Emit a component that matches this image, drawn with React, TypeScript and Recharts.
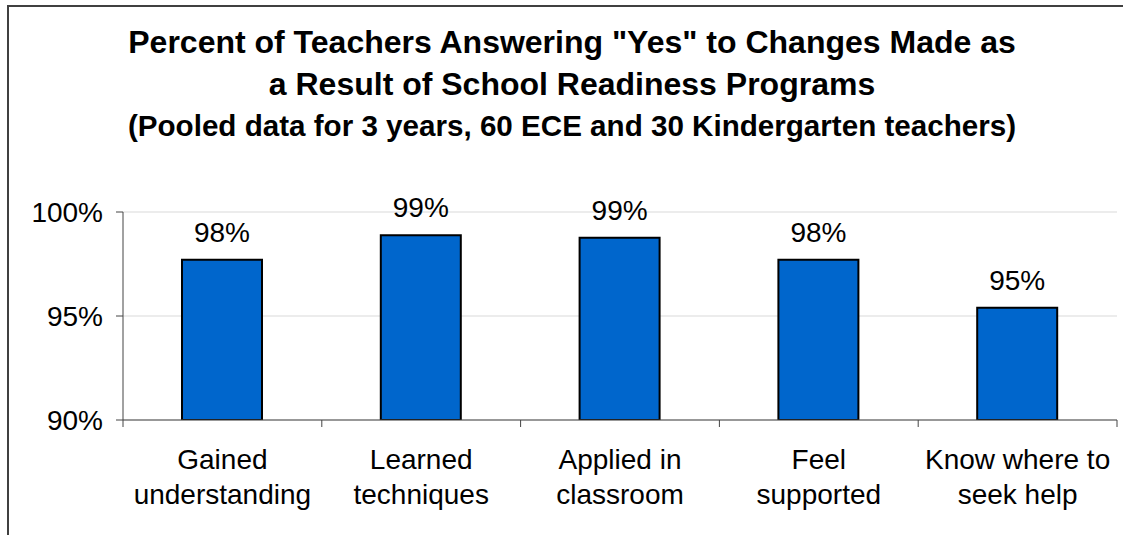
import React from "react";
import { BarChart, Bar, XAxis, YAxis, CartesianGrid, LabelList } from "recharts";

const categories: string[][] = [
  ["Gained", "understanding"],
  ["Learned", "techniques"],
  ["Applied in", "classroom"],
  ["Feel", "supported"],
  ["Know where to", "seek help"],
];
const yesPercent: number[] = [97.7, 98.88, 98.76, 97.7, 95.4];
const yTicks: number[] = [90, 95, 100];
const titleLines: string[] = [
  'Percent of Teachers Answering "Yes" to Changes Made as',
  "a Result of School Readiness Programs",
  "(Pooled data for 3 years, 60 ECE and 30 Kindergarten teachers)",
];

const data = categories.map((c, i) => ({ name: c.join(" "), lines: c, value: yesPercent[i] }));

const FONT = "'Liberation Sans', Arial, sans-serif";
const TXT = 28;

const CategoryTick = (props: any) => {
  const { x, y, payload, index, visibleTicksCount, width } = props;
  const half = payload && payload.offset ? payload.offset : width / visibleTicksCount / 2;
  const lines = data[index] ? data[index].lines : [String(payload.value)];
  return (
    <g>
      <line x1={x - half} x2={x - half} y1={y} y2={y + 7} stroke="#444" strokeWidth={1} />
      {index === visibleTicksCount - 1 && (
        <line x1={x + half} x2={x + half} y1={y} y2={y + 7} stroke="#444" strokeWidth={1} />
      )}
      {lines.map((l: string, i: number) => (
        <text key={i} x={x} y={y + 49 + i * 35} textAnchor="middle" fontSize={TXT} fontFamily={FONT} fill="#000">
          {l}
        </text>
      ))}
    </g>
  );
};

const titleSizes = [32, 32, 29.6];
const titleBaselines = [55, 97, 138];

export default function App() {
  return (
    <div style={{ position: "absolute", left: 0, top: 0, width: 1123, height: 535, background: "#fff", overflow: "hidden" }}>
      <div
        style={{
          position: "absolute",
          left: 7,
          top: 5,
          width: 1130,
          height: 540,
          borderLeft: "2px solid #404040",
          borderTop: "2px solid #404040",
        }}
      />
      <BarChart
        width={1123}
        height={535}
        data={data}
        margin={{ top: 212, right: 6, bottom: 15, left: 0 }}
        barCategoryGap={0}
        style={{ position: "absolute", left: 0, top: 0 }}
      >
        <CartesianGrid vertical={false} stroke="#d9d9d9" strokeWidth={1} />
        <XAxis
          dataKey="name"
          height={100}
          axisLine={{ stroke: "#444", strokeWidth: 1 }}
          tickLine={false}
          tickSize={0}
          tickMargin={0}
          interval={0}
          tick={<CategoryTick />}
        />
        <YAxis
          width={123}
          domain={[90, 100]}
          ticks={yTicks}
          allowDataOverflow
          axisLine={{ stroke: "#444", strokeWidth: 1 }}
          tickLine={{ stroke: "#444", strokeWidth: 1 }}
          tickSize={7}
          tickMargin={13}
          tickFormatter={(v: number) => `${v}%`}
          tick={{ fontSize: TXT, fontFamily: FONT, fill: "#000" }}
        />
        <Bar dataKey="value" fill="#0066CC" stroke="#000" strokeWidth={2} barSize={80} isAnimationActive={false}>
          <LabelList
            dataKey="value"
            position="top"
            offset={18}
            formatter={(v: number) => `${Math.round(v)}%`}
            style={{ fontSize: TXT, fontFamily: FONT, fill: "#000" }}
          />
        </Bar>
      </BarChart>
      {titleLines.map((t, i) => (
        <div
          key={i}
          style={{
            position: "absolute",
            left: 0,
            width: 1144,
            top: titleBaselines[i] - titleSizes[i] * 0.905,
            textAlign: "center",
            fontFamily: FONT,
            fontWeight: "bold",
            fontSize: titleSizes[i],
            lineHeight: 1,
            whiteSpace: "nowrap",
            color: "#000",
          }}
        >
          {t}
        </div>
      ))}
    </div>
  );
}
